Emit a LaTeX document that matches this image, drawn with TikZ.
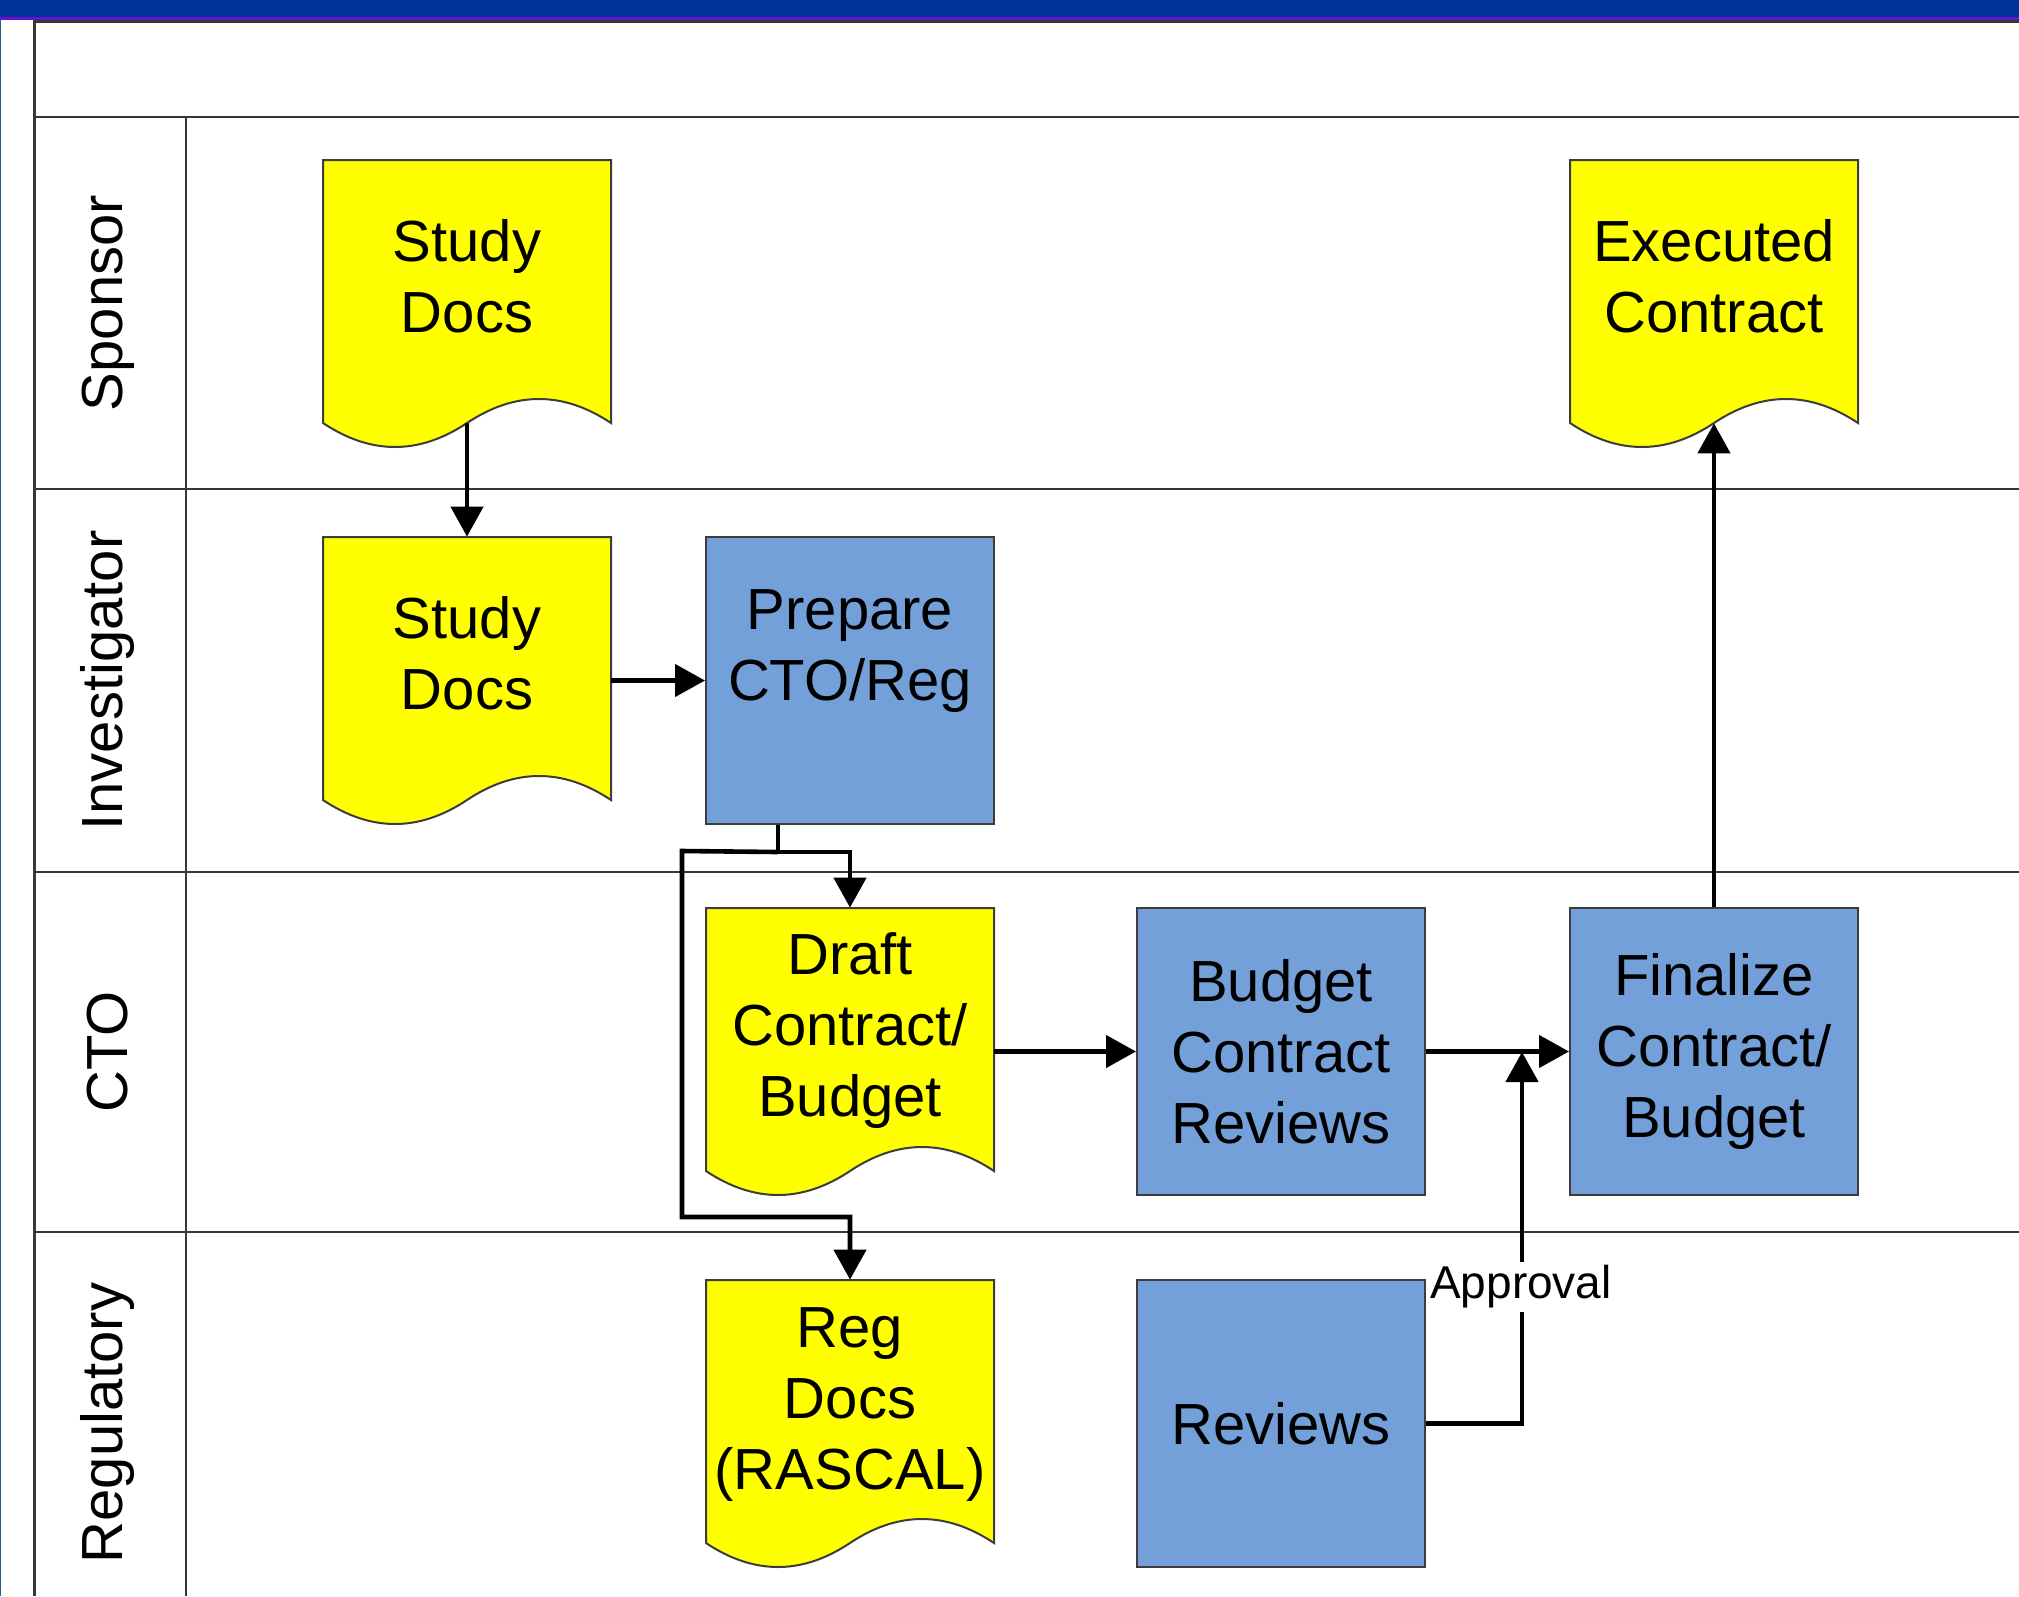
\documentclass[tikz,border=0pt]{standalone}
\usepackage{fontspec}
\setmainfont{Liberation Sans}
\usetikzlibrary{arrows.meta,calc}
\definecolor{barblue}{RGB}{0,51,153}
\definecolor{barpurple}{RGB}{104,16,200}
\definecolor{edgeblue}{RGB}{40,90,160}
\definecolor{procblue}{RGB}{116,160,218}
\definecolor{docyellow}{RGB}{255,255,0}
\definecolor{edgegray}{RGB}{60,60,60}
\definecolor{lanegray}{RGB}{55,55,55}
\newcommand\bxfont{\fontsize{29}{35.5}\selectfont}
\newcommand\docshape[3]{%
  \begin{scope}[shift={(#1,#2)}]
    \filldraw[fill=docyellow, draw=edgegray, line width=1pt]
      (0,0) -- (288,0) -- (288,263)
      .. controls (240,231) and (192,231) .. (144,263)
      .. controls (96,295) and (48,295) .. (0,263) -- cycle;
  \end{scope}
  \node[docframe] (#3) at (#1+144,#2+131.5) {};
}
\begin{document}
\begin{tikzpicture}[x=0.5pt,y=-0.5pt,
  proc/.style={rectangle, draw=edgegray, fill=procblue, line width=1pt,
    minimum width=144pt, minimum height=143.5pt, inner sep=0pt, align=center, font=\bxfont},
  docframe/.style={rectangle, minimum width=144pt, minimum height=131.5pt, inner sep=0pt},
  doctext/.style={inner sep=0pt, align=center, font=\bxfont},
  conn/.style={line width=2.3pt, -{Triangle[width=16pt,length=15pt]}},
  plainconn/.style={line width=2.3pt},
  laneline/.style={line width=1pt, draw=lanegray},
  lanelabel/.style={rotate=90, font=\bxfont, inner sep=0pt},
]
\useasboundingbox (0,0) rectangle (2019,1596);
% title bar
\fill[barblue] (0,0) rectangle (2019,17);
\fill[barpurple] (0,17) rectangle (2019,19.5);
\draw[edgeblue, line width=0.6pt] (0.6,19.5) -- (0.6,1596);
% pool
\draw[lanegray, line width=1.5pt] (34,1596) -- (34,21) -- (2019,21);
\draw[laneline] (34,117) -- (2019,117);
\draw[laneline] (186,117) -- (186,1596);
\draw[laneline] (34,489) -- (2019,489);
\draw[laneline] (34,872) -- (2019,872);
\draw[laneline] (34,1232) -- (2019,1232);
% lane labels
\node[lanelabel] (lsp) at (108,303) {Sponsor};
\node[lanelabel] (lin) at (108,680.5) {Investigator};
\node[lanelabel] (lcto) at (108,1052) {CTO};
\node[lanelabel] (lreg) at (108,1423) {Regulatory};
% document shapes
\docshape{323}{160}{doca}
\node[doctext] (docat) at (467,276) {Study\\Docs};
\docshape{323}{537}{docb}
\node[doctext] (docbt) at (467,653) {Study\\Docs};
\docshape{1570}{160}{exec}
\node[doctext] (exect) at (1714,276) {Executed\\Contract};
\docshape{706}{908}{draft}
\node[doctext] (draftt) at (850,1031) {Draft\\Contract/\\Budget};
\docshape{706}{1280}{reg}
\node[doctext] (regt) at (850,1405) {Reg\\Docs\\(RASCAL)};
% process boxes
\node[proc] (prep) at (850,680.5) {Prepare\\CTO/Reg\\~};
\node[proc] (bud) at (1281,1051.5) {Budget\\Contract\\Reviews};
\node[proc] (fin) at (1714,1051.5) {Finalize\\Contract/\\Budget};
\node[proc] (rev) at (1281,1423.5) {Reviews};
% connectors
\draw[conn] (doca.south) -- (docb.north);
\draw[conn] (docb.east |- prep.west) -- (prep.west);
\coordinate (pstart) at ($(prep.south)+(-72,0)$);
\coordinate (pj) at ($(prep.south)+(-72,27)$);
\coordinate (pl) at (682,851);
\coordinate (pb) at (682,1217);
\draw[plainconn] (pstart) -- (pj);
\draw[conn] (pj) -| (draft.north);
\draw[conn] (pj) -- (pl) -- (pb) -| (reg.north);
\draw[conn] (draft.east |- bud.west) -- (bud.west);
\draw[conn] (bud.east) -- (fin.west);
\coordinate (ap) at (1522,1052);
\draw[conn] (rev.east) -| (ap);
\draw[conn] (fin.north) -- (exec.south);
\node[fill=white, inner xsep=0pt, inner ysep=2pt, font=\fontsize{23}{27}\selectfont] (apl) at (1521,1287) {Approval};
\end{tikzpicture}
\end{document}
